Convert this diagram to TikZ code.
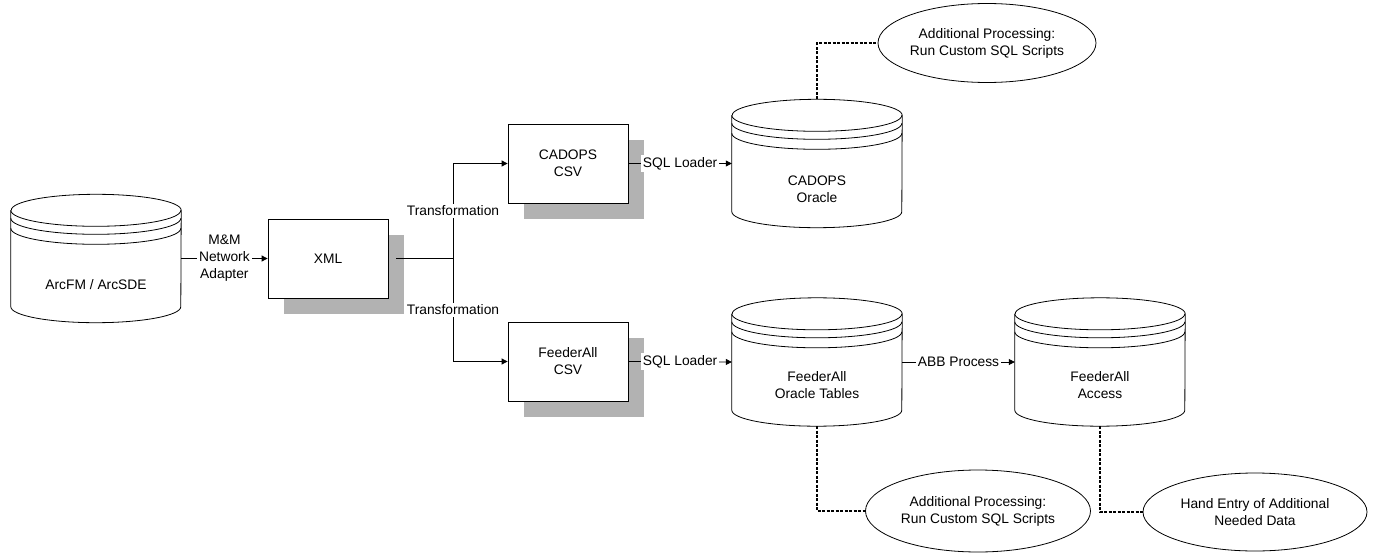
\documentclass[tikz,border=0pt]{standalone}
\usepackage{fontspec}
\setmainfont{Liberation Sans}
\usetikzlibrary{arrows.meta,shapes.geometric,shadows,calc}
\definecolor{shadowgray}{RGB}{178,178,178}
\newcommand\dbcyl[1]{%
  \draw[conn] ($(#1.north west)+(0pt,-16pt)$) -- ($(#1.south west)+(0pt,16pt)$)
    arc[start angle=180, end angle=360, x radius=85pt, y radius=16pt]
    -- ($(#1.north east)+(0pt,-16pt)$)
    arc[start angle=0, end angle=180, x radius=85pt, y radius=16pt];
  \draw[conn] ($(#1.north west)+(0pt,-16pt)$) arc[start angle=180, end angle=360, x radius=85pt, y radius=16pt];
  \draw[conn] ($(#1.north west)+(0pt,-24pt)$) arc[start angle=180, end angle=360, x radius=85pt, y radius=16pt];
  \draw[conn] ($(#1.north west)+(0pt,-34pt)$) arc[start angle=180, end angle=360, x radius=85pt, y radius=16pt];
}
\begin{document}
\begin{tikzpicture}[x=1pt,y=-1pt,
  every node/.style={font=\fontsize{13.8}{17}\selectfont, align=center},
  conn/.style={line width=0.8pt},
  box/.style={draw, fill=white, line width=0.8pt, minimum width=120pt, minimum height=79pt, inner sep=0pt,
    general shadow={fill=shadowgray, shadow xshift=16pt, shadow yshift=-16pt}},
  db/.style={minimum width=170pt, minimum height=128pt, inner sep=0pt},
  oval/.style={draw, ellipse, line width=0.8pt, inner sep=0pt},
  arr/.style={conn, -{Triangle[length=6pt,width=6pt]}},
  lbl/.style={fill=white, inner sep=2pt},
  dashline/.style={line width=1.2pt, dash pattern=on 3pt off 1.5pt}
]
\useasboundingbox (0,0) rectangle (1374,554);

% databases
\node[db, label={[yshift=-26pt]center:ArcFM / ArcSDE}] (arc) at (96,258.5) {};
\node[db, label={[yshift=-26pt]center:CADOPS\\Oracle}] (ora1) at (817,163.5) {};
\node[db, label={[yshift=-23pt]center:FeederAll\\Oracle Tables}] (ora2) at (817,362) {};
\node[db, label={[yshift=-23pt]center:FeederAll\\Access}] (acc) at (1100,362) {};
\dbcyl{arc}
\dbcyl{ora1}
\dbcyl{ora2}
\dbcyl{acc}

% boxes
\node[box] (xml) at (328,258.5) {XML};
\node[box] (csv1) at (568,163.5) {CADOPS\\CSV};
\node[box] (csv2) at (568,361.5) {FeederAll\\CSV};

% ellipses
\node[oval, minimum width=214pt, minimum height=79pt] (ell1) at (987,43) {Additional Processing:\\Run Custom SQL Scripts};
\node[oval, minimum width=225pt, minimum height=82pt] (ell2) at (978,511) {Additional Processing:\\Run Custom SQL Scripts};
\node[oval, minimum width=224pt, minimum height=78pt] (ell3) at (1255,512) {Hand Entry of Additional\\Needed Data};

% connectors
\coordinate (j) at (453,258.5);
\draw[arr] (arc.east) -- node[lbl]{M\&M\\Network\\Adapter} (xml.west);
\draw[conn] ($(xml.east)+(8pt,0pt)$) -- (j);
\draw[arr] (j) |- node[lbl,pos=0.25]{Transformation} (csv1.west);
\draw[arr] (j) |- node[lbl,pos=0.25]{Transformation} (csv2.west);
\draw[arr] (csv1.east) -- node[lbl]{SQL Loader} (ora1.west);
\draw[arr] (csv2.east) -- node[lbl]{SQL Loader} (ora2.west);
\draw[arr] (ora2.east) -- node[lbl]{ABB Process} (acc.west);

\draw[dashline] (ora1.north) |- (ell1.west);
\draw[dashline] (ora2.south) |- (ell2.west);
\draw[dashline] (acc.south) |- (ell3.west);
\end{tikzpicture}
\end{document}
